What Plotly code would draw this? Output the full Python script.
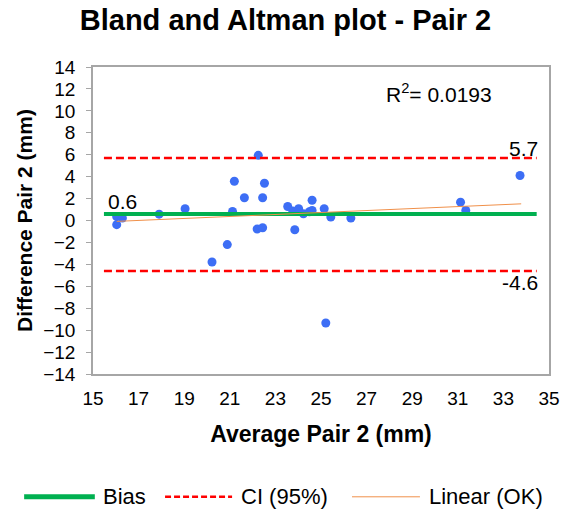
import plotly.graph_objects as go

avg = [16.04, 16.29, 16.04, 17.90, 19.04, 20.22, 20.89, 21.12, 21.20, 21.64,
       22.25, 22.20, 22.44, 22.44, 22.52, 23.54, 23.76, 24.02, 23.85, 24.23,
       24.49, 24.61, 24.61, 25.14, 25.43, 26.31, 25.21, 31.12, 31.35, 33.73]
diff = [0.35, 0.22, -0.38, 0.58, 1.07, -3.78, -2.20, 0.83, 3.58, 2.07,
        5.94, -0.78, -0.66, 2.07, 3.40, 1.28, 0.86, 1.07, -0.84, 0.62,
        0.80, 0.92, 1.85, 1.07, 0.31, 0.22, -9.35, 1.67, 0.92, 4.10]

bias = 0.6
ci_upper = 5.7
ci_lower = -4.6
line_x = [15.48, 34.46]
trend_x = [16.04, 33.78]
trend_y = [-0.08, 1.52]
r2_text = "R<sup>2</sup>= 0.0193"
legend_names = ["Bias", "CI (95%)", "Linear (OK)"]

GREEN, RED, ORANGE = "#00B050", "#FF0000", "#F0904A"
font = "Liberation Sans, Arial, sans-serif"

fig = go.Figure()
fig.add_trace(go.Scatter(x=avg, y=diff, mode="markers", showlegend=False,
                         marker=dict(color="#3D6EF5", size=9)))
fig.add_trace(go.Scatter(x=line_x, y=[bias, bias], mode="lines", showlegend=False,
                         line=dict(color=GREEN, width=4)))
fig.add_trace(go.Scatter(x=line_x, y=[ci_upper, ci_upper], mode="lines", showlegend=False,
                         line=dict(color=RED, width=2.5, dash="8px,4px")))
fig.add_trace(go.Scatter(x=line_x, y=[ci_lower, ci_lower], mode="lines", showlegend=False,
                         line=dict(color=RED, width=2.5, dash="8px,4px")))
fig.add_trace(go.Scatter(x=trend_x, y=trend_y, mode="lines", showlegend=False,
                         line=dict(color=ORANGE, width=1)))

ann = [
    dict(x=15.55, y=bias, text=f"{bias}", xanchor="left", yanchor="bottom", yshift=-1),
    dict(x=34.6, y=ci_upper, text=f"{ci_upper}", xanchor="right", yanchor="bottom", yshift=-4),
    dict(x=34.6, y=ci_lower, text=f"{ci_lower}", xanchor="right", yanchor="top", yshift=2),
    dict(x=27.75, y=11.6, text=r2_text, xanchor="left", yanchor="middle"),
]
for a in ann:
    a.update(showarrow=False, xref="x", yref="y", font=dict(size=21, color="#000000", family=font))

# custom legend (paper coordinates)
leg_y = -0.40
leg_items = [
    (legend_names[0], dict(color=GREEN, width=5), -0.151, 0.004, 0.018),
    (legend_names[1], dict(color=RED, width=2.5, dash="6px,3px"), 0.158, 0.305, 0.320),
    (legend_names[2], dict(color=ORANGE, width=1), 0.568, 0.717, 0.733),
]
shapes = []
for name, ln, x0, x1, xt in leg_items:
    shapes.append(dict(type="line", xref="paper", yref="paper", x0=x0, x1=x1,
                       y0=leg_y, y1=leg_y, line=ln))
    ann.append(dict(x=xt, y=leg_y, xref="paper", yref="paper", text=name, showarrow=False,
                    xanchor="left", yanchor="middle",
                    font=dict(size=22, color="#000000", family=font)))

fig.update_layout(annotations=ann, shapes=shapes)

fig.update_layout(
    width=571, height=515,
    margin=dict(l=93, r=22, t=67, b=141),
    paper_bgcolor="white", plot_bgcolor="white",
    font=dict(family=font, color="#000000", size=19),
    showlegend=False,
    title=dict(text="<b>Bland and Altman plot - Pair 2</b>", x=0.5, xanchor="center",
               y=0.961, yanchor="middle", font=dict(size=29, family=font, color="#000000")),
    xaxis=dict(range=[15, 35], tickvals=list(range(15, 36, 2)), showgrid=False, zeroline=False,
               showline=True, linecolor="#A6A6A6", linewidth=1.5, mirror=True, ticks="",
               tickfont=dict(size=19), ticklabelstandoff=6,
               title=dict(text="<b>Average Pair 2 (mm)</b>", font=dict(size=23), standoff=18)),
    yaxis=dict(range=[-14, 14], tickvals=list(range(-14, 15, 2)), showgrid=False, zeroline=False,
               showline=True, linecolor="#A6A6A6", linewidth=1.5, mirror=True, ticks="outside",
               ticklen=5, tickcolor="#A6A6A6", tickfont=dict(size=19), ticklabelstandoff=7,
               title=dict(text="<b>Difference Pair 2 (mm)</b>", font=dict(size=21), standoff=5)),
)

fig.write_html("out.html")
